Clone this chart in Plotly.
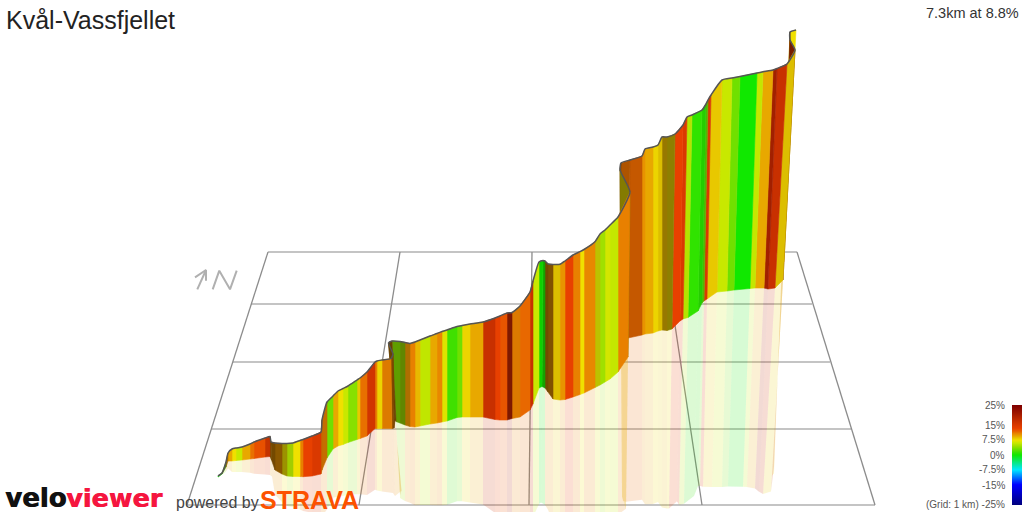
import numpy as np
import plotly.graph_objects as go

title = "Kvål-Vassfjellet"
summary = "7.3km at 8.8%"

top_x = [218,222,226,228,232,236,242,250,254,265,270,271,275,282,287,293,300,303,312,321,322,327,333,338,343,348,357,360,367,375,377,382,391,393,388.5,392,400,405,410,415,420,430,437,442,447,457,462,470,483,495,500,507,512,520,530,533,539,543,545,548,553,560,565,573,580,584,595,600,605,610,618,630,620,621,630,642,645,653,658,662,667,675,683,687,692,702,706,708,711,722,732,740,757,763,773,777,787,795,790,790,796]
top_y = [476,473,462,453,449,448,447,444,442,438,436.5,442,443,443.5,443.5,443,440.5,439.5,436,432,420,402,396,391,388.5,386,380,378,372,362,361,360,358.5,354,343,341,341.5,342.5,343.5,342,340,336,333.5,331.5,330,326.5,325.5,324,322,318,316,313,312.5,306,292,281,262,260.5,261,264,264.5,264.3,261,255,251.7,249.5,241.7,234,230,225,217,192,170,163,160,156,149,147,145,137,137,134,125,117,115,110,104,100,95,80,78,76.5,73,71.8,70,68.5,64,50,40,32,30]
base_x = [218,222,226,228,232,236,242,250,254,265,270,271.5,275,282,287,293,300,303,312,321,322,327,333,338,343,348,357,360,367,375,377,382,392,394,395,396,400,405,410,415,420,430,437,442,447,457,462,470,483,495,500,507,512,520,530,533,539,542,545,548,553,560,565,573,580,584,595,600,605,610,618,628,621,622,628,642,645,653,658,662,667,672,680,683,688,698,702,704,707,717,727,734,750,755,764,768,775,783,782,782,784]
base_y = [477,474,467,461,461,460.5,460,459,458.5,457,456.5,460,470,474,476,476.5,476.5,476.7,476,474,470,458,449,446,444.5,442.5,439.5,438.5,436,428.5,428.5,428.5,428.5,428,420,421.5,423,425,426.5,427,426,424,423,422,421,417.5,417,417,417,419.5,420,420,418.5,417,410,404,388,386.5,388,392,399,400,399.5,397,394.5,393,387.5,385,382,379,372,357,340,339,338,335,334,333,331,330,330.5,329,321,319,317.5,311,303,301,299,292,291,290,288.5,288,288,289,288,280,262,262,262]
grade = [0,3.75,10.3,9.5,7.5,6,9.5,11.5,12.75,15,10.3,10.3,10.3,7.5,5.25,7.5,11,13.5,15,11,11,3,9.5,7.5,6,3.75,8.5,11.5,16,11,8,11,11,10.3,10.3,3.75,4.5,10.3,11,9,5.7,9.5,10.7,6.75,1.5,3,8,9.5,17,13.5,12.5,19,11,11.75,17,6,0,0.5,10.3,10.3,8.5,10.3,13.5,11,7.5,10.7,6.75,4.5,6.4,5.85,11,7.5,11,11.5,11.75,10.3,9.5,8,8.5,9,8,13.5,15,5.25,1,0.8,3,15,8.5,6,3,0,5.85,9.5,19,17,8.5,17,10.3,7.5,7.5]
shade = [1,.6,.7,1,1,1,1,1,1,.9,.5,.5,.6,.65,.9,1,1,1,1,.85,.85,1,1,1,1,1,1,1,1,1,1,.95,.55,.45,.45,.7,.6,.75,1,1,1,1,1,1,1,1,1,1,1,1,1,.7,.95,1,1,1,.9,.7,.5,.55,.95,1,1,1,1,1,.85,1,1,1,1,.55,.55,.75,.85,1,1,1,.95,.65,.6,1,1,1,1,.9,.8,1,1,1,1,1,1,1,.9,1,.95,.6,.6,1,1]

grade_stops = [-25,-15,-7.5,0,1.5,3,4.5,6,7.5,8.5,9.5,11,12,13.5,17,21,25]
stop_colors = [(0,0,128),(0,0,255),(0,232,255),(16,232,0),(64,224,0),(112,224,0),(160,224,0),(200,232,0),(240,224,0),(232,200,0),(232,168,0),(232,128,0),(232,96,0),(232,64,0),(200,48,0),(160,24,0),(128,0,0)]

grid_rows_y = [252,304,362,429,505]
grid_rows_x0 = [268,251,233,211,187]
grid_rows_x1 = [797,812,830,851,875]
grid_cols_x0 = [268,400,532,664,797]
grid_cols_x1 = [187,359,529,702,875]

legend_labels = ["25%","15%","7.5%","0%","-7.5%","-15%","(Grid: 1 km) -25%"]
legend_y = [405,425,439,455,469,485,504]

def colour(g, s=1.0, a=None):
    rgb = [float(np.interp(g, grade_stops, [c[i] for c in stop_colors])) * s for i in range(3)]
    r, gg, b = (int(round(v)) for v in rgb)
    return f"rgb({r},{gg},{b})" if a is None else f"rgba({r},{gg},{b},{a})"

fig = go.Figure()
GRID_A = "#b0b0b0"
GRID_B = "#8c8c8c"
for y, x0, x1 in zip(grid_rows_y, grid_rows_x0, grid_rows_x1):
    fig.add_trace(go.Scatter(x=[x0, x1], y=[y, y], mode="lines", line=dict(color=GRID_A, width=1.6)))
for x0, x1 in zip(grid_cols_x0, grid_cols_x1):
    fig.add_trace(go.Scatter(x=[x0, x1], y=[252, 505], mode="lines", line=dict(color=GRID_B, width=1.3)))

n = len(top_x)
rx = [2 * b - t for b, t in zip(base_x, top_x)]
ry = [b + 0.92 * (b - t) for b, t in zip(base_y, top_y)]
for i in range(n - 2, -1, -1):
    c = colour(grade[i], 1.0, 0.17)
    fig.add_trace(go.Scatter(
        x=[base_x[i], base_x[i+1], rx[i+1], rx[i], base_x[i]],
        y=[base_y[i], base_y[i+1], ry[i+1], ry[i], base_y[i]],
        mode="lines", fill="toself", fillcolor=c, line=dict(width=0)))

for i in range(n - 2, -1, -1):
    c = colour(grade[i], shade[i])
    fig.add_trace(go.Scatter(
        x=[top_x[i], top_x[i+1], base_x[i+1], base_x[i], top_x[i]],
        y=[top_y[i], top_y[i+1], base_y[i+1], base_y[i], top_y[i]],
        mode="lines", fill="toself", fillcolor=c, line=dict(width=0.6, color=c)))

fig.add_trace(go.Scatter(x=top_x, y=top_y, mode="lines",
                         line=dict(color="#555555", width=1.5, shape="spline", smoothing=0.5)))

fig.add_trace(go.Scatter(x=[197.3,206,None,195,206,206,None,212.7,219.3,230,236.7],
                         y=[289.3,270,None,277.3,270,280.7,None,289.3,270.7,289.3,270.7],
                         mode="lines", line=dict(color="#b0b0b0", width=2)))

bar_y = [float(v) for v in np.linspace(405.5, 504.5, 100)]
bar_vals = [float(v) for v in np.linspace(25, -25, 100)]
cs = [[(g + 25) / 50, colour(g)] for g in grade_stops]
fig.add_trace(go.Heatmap(x=[1014.5, 1019.5], y=bar_y, z=[[v, v] for v in bar_vals],
                         colorscale=cs, zmin=-25, zmax=25, showscale=False))

ann = [
    dict(x=5, y=20, text=title, xanchor="left", font=dict(size=25, color="#222", family="Liberation Sans")),
    dict(x=1020, y=13, text=summary, xanchor="right", font=dict(size=14.5, color="#333", family="Liberation Sans")),
    dict(x=4, y=498, text="<b>velo</b>", xanchor="left",
         font=dict(size=26, color="#111", family="DejaVu Sans", shadow="0.7px 0 0 #111")),
    dict(x=65, y=498, text="<b>viewer</b>", xanchor="left",
         font=dict(size=25.5, color="#f5163f", family="DejaVu Sans", shadow="0.7px 0 0 #f5163f")),
    dict(x=175, y=502, text="powered by", xanchor="left", font=dict(size=16, color="#444", family="Liberation Sans")),
    dict(x=259, y=500, text="<b>STRAVA</b>", xanchor="left", font=dict(size=25, color="#fc5200", family="Liberation Sans")),
]
for lab, y in zip(legend_labels, legend_y):
    ann.append(dict(x=1006, y=y, text=lab, xanchor="right", font=dict(size=10, color="#555", family="Liberation Sans")))
for a in ann:
    a.update(xref="x", yref="y", showarrow=False, yanchor="middle", borderpad=0)

fig.update_layout(
    width=1024, height=512, margin=dict(l=0, r=0, t=0, b=0),
    paper_bgcolor="white", plot_bgcolor="white", showlegend=False, hovermode=False,
    xaxis=dict(range=[0, 1024], visible=False, fixedrange=True),
    yaxis=dict(range=[512, 0], visible=False, fixedrange=True),
    annotations=ann,
)
fig.write_html("out.html", config=dict(displayModeBar=False),
               post_script="document.body.style.margin='0';document.body.style.overflow='hidden';")
